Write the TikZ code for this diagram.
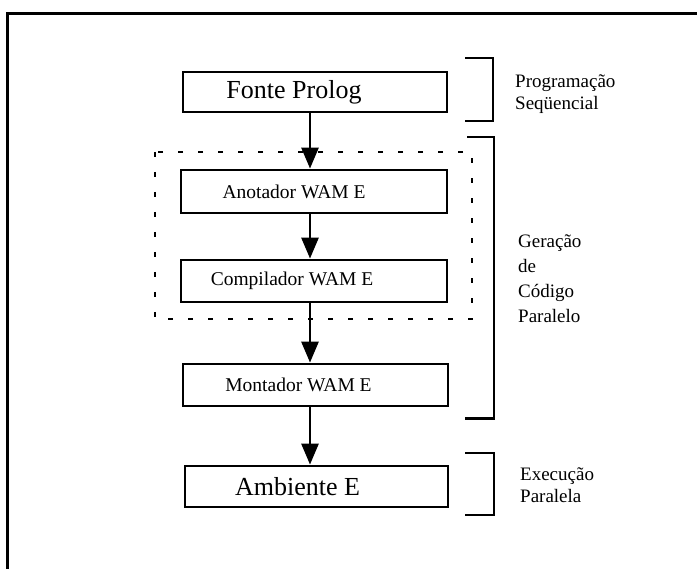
\documentclass[tikz,border=0pt]{standalone}
\usepackage{fontspec}
\setmainfont{Liberation Serif}
\usetikzlibrary{arrows.meta}
\begin{document}
\begin{tikzpicture}[x=1pt,y=-1pt,
  stagebox/.style={draw, line width=2.8pt, rectangle, inner sep=0pt},
  flow/.style={line width=2.8pt, -{Triangle[length=21pt,width=17pt]}},
  brace/.style={line width=2.8pt},
  frame/.style={line width=3pt},
  group/.style={line width=2pt, dash pattern=on 5pt off 15pt},
  side/.style={anchor=west, align=left, inner sep=0pt, font=\fontsize{19}{22}\selectfont},
  big/.style={font=\fontsize{26}{30}\selectfont},
  small/.style={font=\fontsize{19.5}{22}\selectfont}]
\useasboundingbox (0,0) rectangle (697,569);

% outer frame (top and left edges)
\draw[frame] (7,569) -- (7,14) -- (697,14);

% processing stages
\node[stagebox, minimum width=264pt, minimum height=40pt,
  label={[big, xshift=-21pt]center:Fonte Prolog}] (fonte) at (315,92) {};
\node[stagebox, minimum width=266pt, minimum height=43pt,
  label={[small, xshift=-20pt]center:Anotador WAM E}] (anot) at (314,191.5) {};
\node[stagebox, minimum width=266pt, minimum height=42pt,
  label={[small, xshift=-22pt]center:Compilador WAM E}] (comp) at (314,281) {};
\node[stagebox, minimum width=265pt, minimum height=42pt,
  label={[small, xshift=-17pt]center:Montador WAM E}] (mont) at (315.5,385) {};
\node[stagebox, minimum width=263pt, minimum height=41pt,
  label={[big, xshift=-19pt]center:Ambiente E}] (amb) at (316.5,486.5) {};

% dotted group around annotator and compiler
\draw[group] (155,152) rectangle (472,319);

% vertical axis of the flow arrows
\coordinate (axis) at (310,0);
\draw[flow] (fonte.south -| axis) -- (anot.north -| axis);
\draw[flow] (anot.south -| axis) -- (comp.north -| axis);
\draw[flow] (comp.south -| axis) -- (mont.north -| axis);
\draw[flow] (mont.south -| axis) -- (amb.north -| axis);

% phase brackets
\draw[brace] (465,58) -- (493,58) -- (493,121) -- (465,121);
\draw[brace] (467,137) -- (494,137) -- (494,418.5) -- (465,418.5);
\draw[brace] (465,453) -- (494,453) -- (494,515) -- (465,515);

% phase labels
\node[side] (seq) at (515,94) {Programação\\Seqüencial};
\node[side, font=\fontsize{19}{25}\selectfont] (ger) at (518,279) {Geração\\de\\Código\\Paralelo};
\node[side] (exe) at (520,485) {Execução\\Paralela};
\end{tikzpicture}
\end{document}
